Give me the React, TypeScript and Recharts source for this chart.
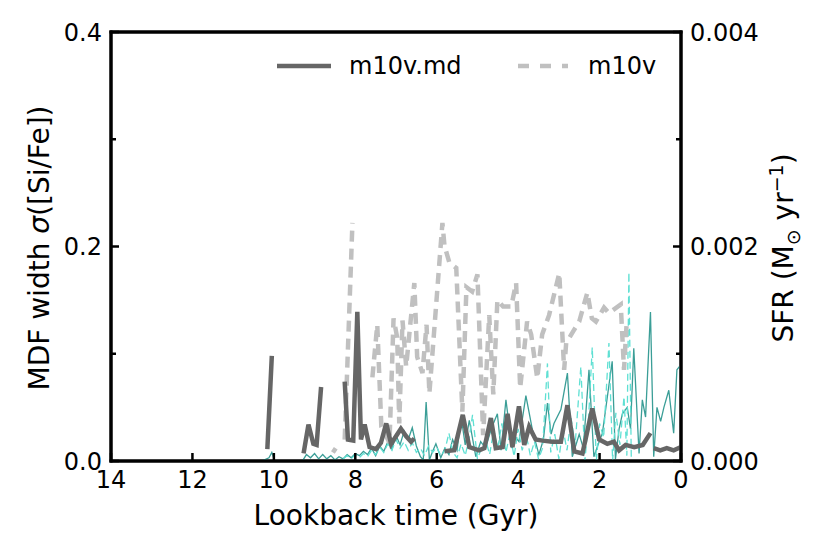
import { Legend, Line, LineChart, ReferenceArea, XAxis, YAxis } from 'recharts'

// MDF width, m10v.md (null = gap)
const mdTime = [
  10.16, 10.05, 9.6, 9.27, 9.15, 9.03, 8.95, 8.84, 8.5, 8.26, 8.18, 8.05, 7.95, 7.86, 7.77, 7.65, 7.49,
  7.37, 7.24, 7.12, 7.0, 6.88, 6.75, 6.63, 6.55, 6.2, 5.81, 5.57, 5.36, 5.2, 4.96, 4.83, 4.67, 4.55,
  4.38, 4.26, 4.14, 3.98, 3.85, 3.73, 3.57, 3.4, 3.16, 2.95, 2.79, 2.62, 2.42, 2.18, 2.01, 1.81, 1.65,
  1.52, 1.36, 1.15, 0.94, 0.75, 0.71, 0.67, 0.51, 0.35, 0.18, 0.0,
]
const mdWidth = [
  0.011, 0.098, null, 0.007, 0.034, 0.016, 0.015, 0.069, null, 0.074, 0.02, 0.019, 0.139, 0.02, 0.034,
  0.013, 0.011, 0.017, 0.035, 0.016, 0.023, 0.03, 0.023, 0.018, 0.021, null, 0.009, 0.01, 0.043, 0.013,
  0.01, 0.012, 0.04, 0.012, 0.013, 0.044, 0.013, 0.051, 0.015, 0.032, 0.02, 0.019, 0.018, 0.018, 0.052,
  0.009, 0.007, 0.049, 0.02, 0.016, 0.018, 0.01, 0.015, 0.013, 0.015, 0.026, null, 0.012, 0.01, 0.012,
  0.01, 0.013,
]

// MDF width, m10v
const v10Time = [
  8.55, 8.48, 8.4, 8.26, 8.07, 7.8, 7.58, 7.46, 7.36, 7.16, 7.06, 6.97, 6.92, 6.84, 6.75, 6.55, 6.48,
  6.35, 6.25, 6.18, 5.86, 5.81, 5.69, 5.52, 5.37, 5.27, 5.13, 5.0, 4.86, 4.71, 4.61, 4.51, 4.37, 4.17,
  4.05, 3.95, 3.78, 3.68, 3.53, 3.41, 3.24, 2.99, 2.87, 2.82, 2.63, 2.5, 2.3, 2.19, 2.09, 1.89, 1.77,
  1.48, 1.4, 1.33,
]
const v10Width = [
  0.008, 0.012, null, 0.02, 0.222, null, 0.078, 0.127, 0.032, 0.017, 0.133, 0.115, 0.035, 0.131, 0.088,
  0.166, 0.097, 0.082, 0.127, 0.063, 0.222, 0.201, 0.185, 0.18, 0.046, 0.162, 0.158, 0.174, 0.024, 0.136,
  0.062, 0.15, 0.144, 0.144, 0.166, 0.068, 0.13, 0.118, 0.077, 0.118, 0.136, 0.175, 0.085, 0.11, 0.122,
  0.13, 0.157, 0.133, 0.13, 0.143, 0.138, 0.146, 0.085, 0.132,
]

// SFR, m10v.md
const sfrMdTime = [
  10.3, 10.12, 10.05, 9.98, 9.3, 9.2, 9.1, 9.0, 8.9, 8.8, 8.7, 8.6, 8.5, 8.4, 8.3, 8.2, 8.1, 8.0, 7.9,
  7.8, 7.7, 7.6, 7.5, 7.4, 7.3, 7.2, 7.1, 7.0, 6.9, 6.8, 6.7, 6.6, 6.5, 6.4, 6.33, 6.26, 6.18, 6.1,
  6.02, 5.9, 5.8, 5.7, 5.61, 5.5, 5.4, 5.3, 5.2, 5.04, 4.92, 4.8, 4.66, 4.51, 4.42, 4.3, 4.15, 4.06,
  3.98, 3.81, 3.73, 3.65, 3.49, 3.38, 3.28, 3.19, 3.12, 2.95, 2.79, 2.67, 2.5, 2.4, 2.26, 2.14, 2.04,
  1.93, 1.69, 1.61, 1.52, 1.44, 1.32, 1.24, 1.16, 1.03, 0.95, 0.87, 0.75, 0.67, 0.59, 0.5, 0.42, 0.3,
  0.18, 0.1, 0.04,
]
const sfrMd = [
  0, 0.00003, 0.00008, 0, 0, 0.00006, 0.00003, 0.00007, 0.00002, 0.00006, 0.00002, 0.00005, 0.00001,
  0.00004, 0.00002, 0.00006, 0.00003, 0.00007, 0.00005, 0.00009, 0.00006, 0.00012, 0.00005, 0.00014,
  0.00009, 0.00018, 0.00011, 0.00024, 0.00015, 0.00028, 0.0002, 0.00031, 0.00014, 0.00004, 0.00001,
  0.00055, 0.00001, 0.00009, 0.00016, 0.00003, 0.00012, 0.00006, 0.0002, 0.0001, 0.00041, 0.00015,
  0.00038, 0.00004, 0.00018, 0.00012, 0.0003, 0.00044, 0.0001, 0.00057, 0.00012, 0.00022, 0.00018,
  0.00061, 0.00045, 0.00029, 0.00006, 0.0002, 0.00054, 0.00025, 0.00035, 0.00048, 0.00082, 0.00004,
  0.00025, 0.00012, 0.00085, 0.00004, 0.00015, 0.00026, 0.00093, 0.00002, 0.0003, 0.00044, 0.0005,
  0.0003, 0.00105, 0.00007, 0.00057, 0.00041, 0.00139, 0.00004, 0.0005, 0.00037, 0.0005, 0.00066,
  0.00026, 0.00085, 0.00088,
]

// SFR, m10v
const sfrV10Time = [
  8.3, 8.2, 8.1, 8.0, 7.9, 7.8, 7.7, 7.6, 7.5, 7.4, 7.3, 7.2, 7.1, 7.0, 6.9, 6.8, 6.7, 6.6, 6.5, 6.4,
  6.3, 6.2, 6.1, 6.0, 5.9, 5.8, 5.7, 5.6, 5.5, 5.4, 5.3, 5.2, 5.12, 5.0, 4.9, 4.8, 4.7, 4.6, 4.5, 4.4,
  4.3, 4.2, 4.1, 4.0, 3.9, 3.8, 3.7, 3.6, 3.5, 3.4, 3.28, 3.2, 3.1, 3.0, 2.9, 2.8, 2.7, 2.6, 2.46,
  2.36, 2.27, 2.18, 2.08, 2.0, 1.9, 1.77, 1.68, 1.6, 1.5, 1.4, 1.33, 1.28, 1.22,
]
const sfrV10 = [
  0.00002, 0.00005, 0.00002, 0.00006, 0.00003, 0.00007, 0.00004, 0.0001, 0.00006, 0.00013, 0.00008,
  0.00016, 0.0001, 0.0002, 0.00012, 0.00018, 0.0001, 0.00017, 0.00008, 0.00012, 0.00005, 0.00014,
  0.00008, 0.00013, 0.00005, 0.0001, 0.00026, 0.00008, 0.00003, 0.00016, 0.00005, 0.00022, 0.00043,
  0.00002, 0.00012, 0.0002, 0.00006, 0.00029, 0.00012, 0.00035, 0.00008, 0.00026, 0.00004, 0.0003,
  0.0001, 0.00024, 0.00005, 0.00018, 0.00002, 0.00012, 0.00091, 0.00008, 0.00025, 0.00002, 0.0003,
  0.0001, 0.0004, 0.00015, 0.00088, 0, 0.0004, 0.00106, 0, 0.00035, 0.00022, 0.0011, 0, 0.00045,
  0.00015, 0.0006, 0.00005, 0.00176, 0,
]

const timeTicks = [0, 2, 4, 6, 8, 10, 12, 14]
const widthTicks = [0, 0.1, 0.2, 0.3, 0.4]
const sfrTicks = [0, 0.001, 0.002, 0.003, 0.004]

const pairs = (ts: number[], vs: (number | null)[]) => ts.map((t, i) => ({ t, v: vs[i] }))

const FONT = '"DejaVu Sans", sans-serif'
const TICK_FS = 24

function BottomTick({ x, y, payload }: any) {
  return (
    <g>
      <line x1={x} x2={x} y1={y} y2={y - 8} stroke="#000" strokeWidth={2.5} />
      <text x={x} y={y + 27} textAnchor="middle" fontSize={TICK_FS} fontFamily={FONT} fill="#000">
        {payload.value}
      </text>
    </g>
  )
}

function TopTick({ x, y }: any) {
  return <line x1={x} x2={x} y1={y} y2={y + 8} stroke="#000" strokeWidth={2.5} />
}

function LeftTick({ x, y, payload }: any) {
  const major = Math.round(payload.value * 10) % 2 === 0
  return (
    <g>
      <line x1={x} x2={x + (major ? 8 : 5)} y1={y} y2={y} stroke="#000" strokeWidth={2.5} />
      {major && (
        <text x={x - 9} y={y + 8.5} textAnchor="end" fontSize={TICK_FS} fontFamily={FONT} fill="#000">
          {payload.value.toFixed(1)}
        </text>
      )}
    </g>
  )
}

function RightTick({ x, y, payload }: any) {
  const major = Math.round(payload.value * 1000) % 2 === 0
  return (
    <g>
      <line x1={x} x2={x - (major ? 8 : 5)} y1={y} y2={y} stroke="#000" strokeWidth={2.5} />
      {major && (
        <text x={x + 9} y={y + 8.5} textAnchor="start" fontSize={TICK_FS} fontFamily={FONT} fill="#000">
          {payload.value.toFixed(3)}
        </text>
      )}
    </g>
  )
}

function LegendBox() {
  return (
    <svg width={420} height={40} style={{ display: 'block' }}>
      <line x1={17} x2={71} y1={20} y2={20} stroke="#666666" strokeWidth={4.5} />
      <text x={89} y={28} fontSize={TICK_FS} fontFamily={FONT} fill="#000">
        m10v.md
      </text>
      <line x1={258} x2={308} y1={20} y2={20} stroke="#c0c0c0" strokeWidth={4.5} strokeDasharray="11 11" />
      <text x={328} y={28} fontSize={TICK_FS} fontFamily={FONT} fill="#000">
        m10v
      </text>
    </svg>
  )
}

const axisLine = { stroke: '#000', strokeWidth: 3, strokeLinecap: 'square' as const }

export default function App() {
  return (
    <div style={{ position: 'absolute', left: 0, top: 0, width: 830, height: 554, background: '#fff' }}>
      <LineChart width={830} height={554} margin={{ top: 31, right: 0, bottom: 0, left: 0 }}>
        <XAxis
          xAxisId="bottom"
          type="number"
          dataKey="t"
          domain={[0, 14]}
          reversed
          ticks={timeTicks}
          interval={0}
          height={93}
          tickSize={0}
          tickMargin={0}
          tickLine={false}
          axisLine={axisLine}
          tick={<BottomTick />}
        />
        <XAxis
          xAxisId="top"
          orientation="top"
          type="number"
          dataKey="t"
          domain={[0, 14]}
          reversed
          ticks={timeTicks}
          interval={0}
          height={1}
          tickSize={0}
          tickMargin={0}
          tickLine={false}
          axisLine={axisLine}
          tick={<TopTick />}
        />
        <YAxis
          yAxisId="left"
          type="number"
          domain={[0, 0.4]}
          ticks={widthTicks}
          interval={0}
          width={111}
          tickSize={0}
          tickMargin={0}
          tickLine={false}
          axisLine={axisLine}
          tick={<LeftTick />}
        />
        <YAxis
          yAxisId="right"
          orientation="right"
          type="number"
          domain={[0, 0.004]}
          ticks={sfrTicks}
          interval={0}
          width={149}
          tickSize={0}
          tickMargin={0}
          tickLine={false}
          axisLine={axisLine}
          tick={<RightTick />}
        />
        <Line
          xAxisId="bottom"
          yAxisId="right"
          data={pairs(sfrMdTime, sfrMd)}
          dataKey="v"
          type="linear"
          stroke="#3b9e97"
          strokeWidth={1.3}
          dot={false}
          isAnimationActive={false}
        />
        <Line
          xAxisId="bottom"
          yAxisId="right"
          data={pairs(sfrV10Time, sfrV10)}
          dataKey="v"
          type="linear"
          stroke="#5fe0d3"
          strokeWidth={1.3}
          strokeDasharray="7 4"
          dot={false}
          isAnimationActive={false}
        />
        <Line
          xAxisId="bottom"
          yAxisId="left"
          data={pairs(v10Time, v10Width)}
          dataKey="v"
          type="linear"
          stroke="#c0c0c0"
          strokeWidth={4.5}
          strokeDasharray="11 7"
          dot={false}
          isAnimationActive={false}
        />
        <Line
          xAxisId="bottom"
          yAxisId="left"
          data={pairs(mdTime, mdWidth)}
          dataKey="v"
          type="linear"
          stroke="#666666"
          strokeWidth={4.5}
          dot={false}
          isAnimationActive={false}
        />
        <ReferenceArea
          xAxisId="bottom"
          yAxisId="left"
          x1={14}
          x2={0}
          y1={0}
          y2={0.4}
          fill="none"
          fillOpacity={0}
          stroke="#000"
          strokeWidth={3}
          ifOverflow="visible"
        />
        <Legend
          layout="horizontal"
          verticalAlign="middle"
          align="center"
          content={() => <LegendBox />}
          wrapperStyle={{ left: 260, top: 46, width: 420, height: 40 }}
        />
      </LineChart>
      <div
        style={{
          position: 'absolute',
          left: 40,
          top: 248,
          transform: 'translate(-50%, -50%) rotate(-90deg)',
          whiteSpace: 'nowrap',
          fontFamily: FONT,
          fontSize: 28,
          lineHeight: 1,
        }}
      >
        MDF width <i>σ</i>([Si/Fe])
      </div>
      <div
        style={{
          position: 'absolute',
          left: 785,
          top: 248,
          transform: 'translate(-50%, -50%) rotate(-90deg)',
          whiteSpace: 'nowrap',
          fontFamily: FONT,
          fontSize: 28,
          lineHeight: 1,
        }}
      >
        SFR (M<sub style={{ fontSize: 19 }}>⊙</sub> yr<sup style={{ fontSize: 19 }}>−1</sup>)
      </div>
      <div
        style={{
          position: 'absolute',
          left: 396,
          top: 502,
          transform: 'translateX(-50%)',
          whiteSpace: 'nowrap',
          fontFamily: FONT,
          fontSize: 28,
          lineHeight: 1,
        }}
      >
        Lookback time (Gyr)
      </div>
    </div>
  )
}
